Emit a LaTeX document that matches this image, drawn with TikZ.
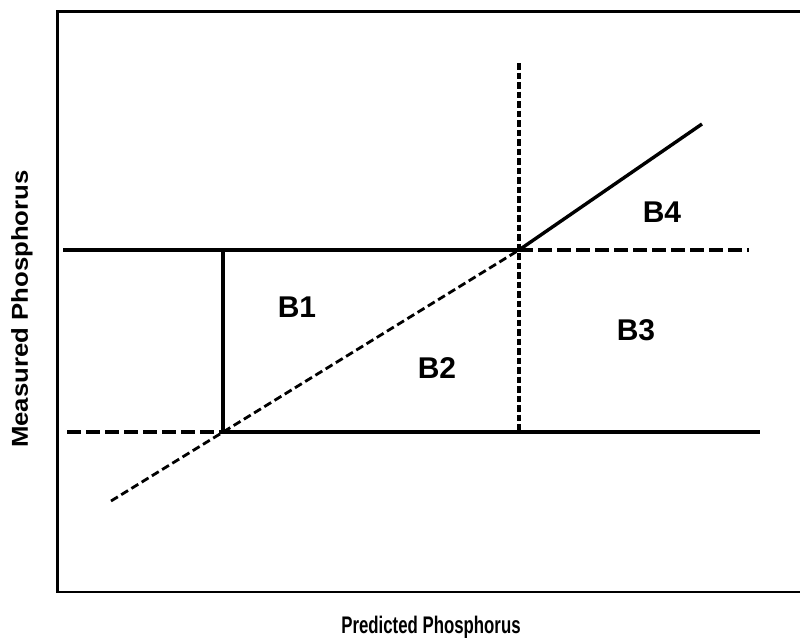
\documentclass[tikz,border=0pt]{standalone}
\usepackage{fontspec}
\setmainfont{Liberation Sans}
\begin{document}
\begin{tikzpicture}[x=1pt,y=-1pt,
  solidln/.style={line width=3.4pt},
  framel/.style={line width=2.2pt},
  longdash/.style={line width=3.2pt,dash pattern=on 14pt off 5pt},
  shortdash/.style={line width=2.8pt,dash pattern=on 8pt off 4pt},
  vdash/.style={line width=3.2pt,dash pattern=on 6.5pt off 3pt},
  blabel/.style={font=\bfseries\fontsize{30}{30}\selectfont},
  axlabel/.style={font=\bfseries\fontsize{24}{24}\selectfont}]
\useasboundingbox (0,0) rectangle (800,640);
% frame
\coordinate (ftr) at (801,11.5);
\coordinate (ftl) at (57.5,11.5);
\coordinate (fbl) at (57.5,592);
\coordinate (fbr) at (801,592);
\draw[framel] (ftr) -- (ftl) -- (fbl) -- (fbr);
% key points
\coordinate (tl) at (63,250);
\coordinate (p1) at (519,250);
\coordinate (tr) at (749,250);
\coordinate (p0) at (223,432);
\coordinate (bl) at (67,432);
\coordinate (br) at (760,432);
\coordinate (vt) at (519,63);
\coordinate (vb) at (519,432);
\coordinate (dlo) at (111,501);
\coordinate (dhi) at (702,124);
% lines
\draw[solidln] (tl) -- (p1);
\draw[longdash] (p1) -- (tr);
\draw[solidln] (p0) -- (223,250);
\draw[solidln] (p0) -- (br);
\draw[longdash] (bl) -- (p0);
\draw[shortdash] (dlo) -- (p1);
\draw[solidln] (p1) -- (dhi);
\draw[vdash] (vt) -- (vb);
% labels
\node[blabel] (b1) at (297,307) {B1};
\node[blabel] (b2) at (437,368) {B2};
\node[blabel] (b3) at (636,330) {B3};
\node[blabel] (b4) at (662,212) {B4};
\node[axlabel,xscale=0.7] (xl) at (431,627) {Predicted Phosphorus};
\node[font=\bfseries\fontsize{23}{23}\selectfont,rotate=90,xscale=1.12] (yl) at (22,309) {Measured Phosphorus};
\end{tikzpicture}
\end{document}
